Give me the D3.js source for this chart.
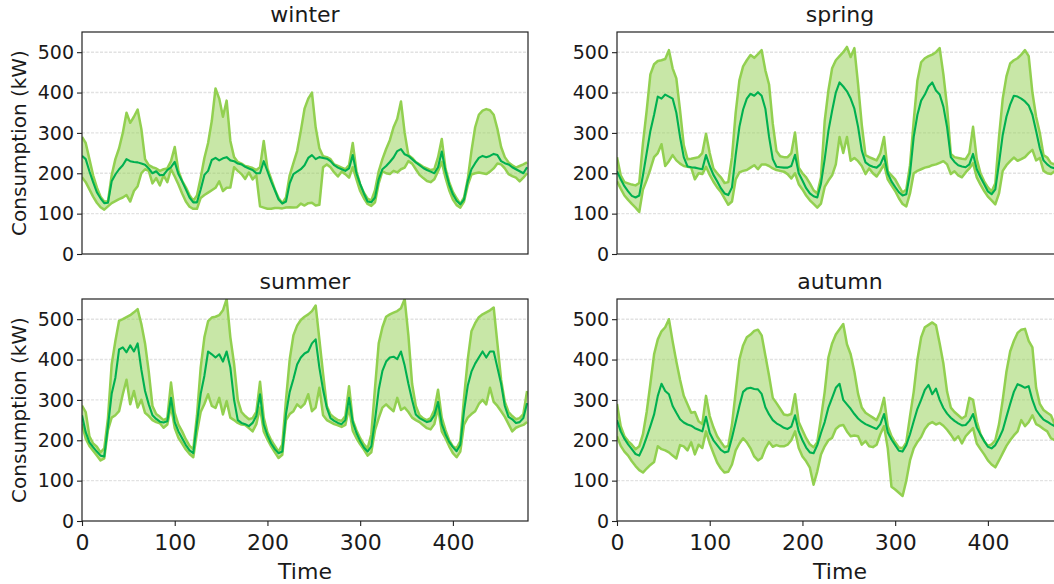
<!DOCTYPE html>
<html>
<head>
<meta charset="utf-8">
<script src="https://cdn.jsdelivr.net/npm/d3@7"></script>
<style>
  body { margin: 0; background: #ffffff; }
  svg { display: block; }
  text { font-family: "DejaVu Sans", sans-serif; fill: #1a1a1a; }
</style>
</head>
<body>
<svg id="chart" width="1054" height="584"></svg>
<script>
// Hourly samples (every 4 quarter-hour steps) over five days, per season.
const STEP = 4;
const seasonNames = ["winter", "spring", "summer", "autumn"];
const xTicks = [0, 100, 200, 300, 400];
const yTicks = [0, 100, 200, 300, 400, 500];

const winterMax = [
  290, 275, 235, 195, 165, 142, 130, 130, 195, 235, 262, 300, 350, 325, 340, 358, 310, 235, 220, 215, 212, 206, 210, 212,
  230, 265, 206, 181, 165, 146, 132, 145, 189, 238, 275, 330, 410, 385, 340, 380, 280, 240, 228, 224, 218, 216, 213, 208,
  215, 280, 212, 186, 160, 139, 126, 140, 195, 225, 255, 305, 360, 385, 400, 314, 262, 242, 240, 235, 222, 218, 214, 210,
  220, 275, 205, 173, 152, 137, 132, 158, 205, 235, 260, 282, 314, 335, 378, 300, 245, 238, 228, 222, 216, 212, 208, 210,
  240, 285, 212, 178, 154, 138, 124, 140, 185, 255, 314, 345, 355, 359, 356, 345, 310, 265, 240, 227, 220, 214, 218, 222,
  227];
const winterMean = [
  243, 235, 205, 178, 153, 138, 126, 127, 180, 197, 210, 220, 235, 230, 228, 227, 224, 221, 212, 200, 205, 195, 196, 208,
  215, 228, 198, 180, 160, 140, 128, 128, 160, 196, 206, 233, 238, 232, 237, 240, 232, 230, 224, 222, 216, 212, 208, 200,
  200, 230, 205, 180, 158, 135, 125, 130, 175, 198, 204, 210, 220, 238, 245, 235, 240, 238, 236, 230, 220, 214, 210, 206,
  212, 245, 200, 173, 150, 130, 128, 140, 185, 210, 218, 228, 239, 255, 260, 247, 243, 235, 227, 220, 213, 208, 204, 200,
  215, 254, 206, 172, 148, 132, 123, 135, 180, 210, 225, 238, 243, 240, 243, 248, 245, 230, 225, 222, 215, 210, 205, 200,
  215];
const winterMin = [
  190, 178, 160, 142, 127, 116, 110, 118, 126, 131, 136, 140, 146, 130, 156, 168, 200, 210, 206, 175, 188, 170, 195, 178,
  210, 192, 172, 150, 130, 117, 112, 112, 139, 146, 152, 158, 164, 180, 156, 164, 165, 215, 206, 198, 186, 202, 185, 195,
  118, 115, 112, 112, 114, 114, 113, 115, 116, 115, 116, 125, 120, 126, 127, 120, 122, 215, 222, 215, 202, 192, 204, 198,
  189, 215, 185, 156, 138, 124, 119, 128, 175, 205, 200, 198, 206, 202, 210, 214, 230, 224, 210, 196, 188, 181, 178, 185,
  205, 228, 189, 158, 135, 121, 115, 130, 170, 197, 200, 202, 200, 198, 204, 212, 224, 222, 212, 198, 193, 189, 180, 189,
  200];

const springMax = [
  240, 195, 178, 175, 172, 170, 176, 275, 355, 445, 470, 478, 480, 483, 505, 460, 435, 356, 270, 235, 236, 238, 240, 250,
  298, 250, 212, 200, 190, 176, 178, 240, 350, 430, 465, 480, 493, 486, 495, 505, 455, 420, 323, 255, 242, 240, 240, 250,
  301, 214, 200, 190, 175, 158, 150, 190, 330, 405, 460, 480, 490, 500, 513, 488, 510, 420, 320, 245, 240, 236, 232, 250,
  290, 205, 195, 185, 168, 152, 160, 220, 330, 430, 475, 485, 490, 494, 500, 510, 445, 364, 248, 240, 238, 236, 235, 250,
  315, 235, 200, 180, 165, 155, 175, 290, 385, 440, 472, 480, 485, 494, 505, 490, 400, 340, 300, 245, 239, 225, 222, 218,
  215];
const springMean = [
  205, 185, 168, 155, 144, 140, 145, 195, 250, 305, 345, 390, 385, 395, 390, 385, 350, 290, 240, 217, 215, 214, 212, 210,
  245, 218, 196, 180, 163, 150, 146, 165, 245, 315, 358, 385, 397, 392, 401, 392, 360, 290, 235, 216, 215, 214, 214, 218,
  246, 200, 182, 163, 150, 143, 140, 175, 235, 305, 355, 400, 425, 415, 403, 385, 360, 315, 256, 227, 220, 216, 214, 222,
  243, 200, 180, 166, 153, 145, 148, 200, 290, 345, 380, 395, 415, 425, 405, 395, 365, 314, 240, 228, 220, 217, 215, 222,
  248, 210, 190, 173, 155, 148, 160, 225, 295, 340, 370, 392, 390, 385, 378, 368, 345, 305, 262, 232, 222, 215, 212, 210,
  210];
const springMin = [
  180, 162, 145, 134, 124, 115, 104, 160, 183, 210, 240, 250, 272, 218, 230, 245, 232, 224, 218, 216, 214, 185, 200, 198,
  216, 196, 179, 165, 154, 138, 122, 130, 185, 202, 206, 208, 214, 220, 210, 222, 222, 218, 212, 208, 206, 204, 198, 187,
  200, 173, 160, 145, 133, 124, 115, 125, 166, 182, 195, 222, 290, 250, 290, 231, 238, 230, 218, 198, 212, 200, 192, 206,
  222, 185, 170, 156, 138, 124, 118, 150, 200, 206, 210, 214, 216, 220, 222, 226, 230, 222, 198, 205, 195, 190, 202, 212,
  225, 190, 172, 156, 142, 133, 123, 150, 206, 220, 230, 239, 231, 235, 240, 250, 258, 232, 238, 206, 200, 198, 205, 200,
  198];

const summerMax = [
  286, 270, 210, 192, 184, 170, 180, 255, 388, 446, 496, 500, 505, 510, 517, 525, 488, 440, 370, 285, 265, 258, 250, 255,
  343, 268, 239, 222, 202, 186, 178, 262, 380, 455, 495, 504, 506, 510, 522, 550, 455, 390, 300, 270, 260, 252, 255, 270,
  345, 256, 220, 200, 186, 172, 189, 300, 400, 460, 484, 498, 506, 512, 520, 534, 450, 365, 285, 264, 256, 250, 248, 260,
  334, 250, 225, 205, 190, 180, 215, 330, 440, 480, 506, 512, 516, 520, 527, 550, 460, 340, 285, 262, 254, 250, 255, 275,
  325, 256, 225, 200, 185, 180, 198, 305, 400, 470, 490, 505, 512, 517, 522, 529, 440, 350, 295, 270, 260, 252, 255, 265,
  322];
const summerMean = [
  262, 220, 195, 183, 172, 162, 160, 235, 315, 355, 425, 430, 418, 435, 420, 440, 375, 322, 289, 262, 253, 246, 244, 247,
  305, 245, 222, 205, 188, 175, 168, 243, 315, 360, 420, 413, 405, 413, 395, 420, 380, 300, 250, 243, 240, 235, 243, 260,
  314, 239, 212, 192, 178, 168, 172, 265, 320, 352, 388, 405, 415, 420, 440, 450, 380, 325, 281, 255, 248, 243, 240, 250,
  305, 245, 218, 198, 182, 172, 185, 250, 325, 372, 395, 405, 407, 401, 420, 385, 340, 300, 264, 255, 250, 245, 248, 262,
  295, 240, 215, 196, 183, 173, 189, 272, 335, 370, 390, 405, 420, 405, 420, 420, 380, 340, 285, 258, 252, 243, 245, 255,
  292];
const summerMin = [
  240, 204, 186, 174, 162, 150, 155, 225, 256, 262, 272, 314, 350, 289, 322, 281, 300, 268, 260, 250, 245, 242, 231, 239,
  285, 230, 206, 192, 177, 166, 158, 220, 270, 290, 314, 285, 280, 305, 264, 297, 256, 250, 243, 239, 238, 230, 222, 240,
  281, 222, 202, 185, 170, 156, 164, 250, 265, 272, 289, 281, 290, 314, 272, 281, 330, 262, 250, 245, 240, 237, 233, 238,
  281, 224, 205, 190, 177, 162, 170, 225, 255, 281, 289, 280, 272, 305, 275, 281, 270, 256, 250, 245, 237, 230, 227, 240,
  281, 222, 205, 185, 168, 158, 172, 239, 256, 265, 272, 290, 300, 289, 330, 295, 285, 272, 258, 240, 222, 231, 235, 238,
  245];

const autumnMax = [
  290, 235, 210, 198, 189, 178, 185, 215, 270, 340, 413, 450, 470, 480, 500, 445, 395, 350, 310, 289, 268, 270, 247, 240,
  310, 260, 232, 210, 196, 183, 186, 239, 320, 400, 435, 455, 462, 471, 474, 460, 410, 360, 305, 292, 278, 264, 262, 265,
  314, 245, 225, 205, 190, 183, 195, 255, 320, 405, 440, 462, 475, 488, 438, 413, 370, 315, 281, 268, 262, 256, 250, 270,
  305, 235, 210, 195, 182, 180, 195, 260, 320, 400, 455, 480, 486, 492, 485, 440, 390, 320, 281, 270, 262, 254, 260, 305,
  300, 247, 215, 198, 186, 190, 200, 240, 300, 370, 420, 446, 466, 474, 476, 446, 430, 330, 290, 275, 268, 262, 240, 235,
  232];
const autumnMean = [
  250, 222, 204, 190, 178, 166, 162, 182, 208, 235, 264, 310, 340, 322, 314, 285, 268, 252, 244, 239, 236, 230, 226, 222,
  258, 218, 200, 188, 176, 170, 172, 206, 245, 285, 320, 328, 330, 327, 326, 315, 282, 264, 250, 242, 237, 231, 228, 234,
  262, 222, 200, 182, 170, 168, 188, 218, 245, 281, 305, 330, 340, 300, 289, 278, 265, 254, 246, 240, 236, 232, 228, 240,
  265, 220, 202, 188, 174, 172, 188, 215, 247, 278, 300, 325, 337, 314, 328, 300, 280, 266, 256, 248, 242, 237, 238, 248,
  265, 232, 214, 198, 184, 180, 188, 205, 225, 258, 290, 320, 339, 335, 330, 334, 300, 275, 262, 251, 246, 240, 235, 232,
  230];
const autumnMin = [
  210, 186, 172, 162, 148, 136, 126, 120, 130, 139, 146, 185, 178, 175, 170, 162, 155, 188, 185, 175, 195, 165, 189, 181,
  222, 192, 168, 145, 130, 120, 122, 140, 175, 192, 205, 195, 180, 160, 150, 156, 180, 196, 184, 188, 185, 185, 189, 200,
  222, 181, 160, 148, 132, 90, 123, 165, 185, 200, 206, 228, 236, 238, 222, 210, 212, 210, 189, 198, 185, 183, 189, 215,
  235, 180, 85, 78, 70, 62, 100, 150, 180, 196, 208, 228, 240, 245, 239, 243, 236, 226, 214, 200, 210, 192, 210, 220,
  230, 192, 178, 165, 150, 140, 133, 150, 168, 186, 200, 212, 222, 250, 235, 245, 262, 240, 235, 228, 222, 205, 200, 205,
  210];

const seriesBySeason = {
  winter: { max: winterMax, mean: winterMean, min: winterMin },
  spring: { max: springMax, mean: springMean, min: springMin },
  summer: { max: summerMax, mean: summerMean, min: summerMin },
  autumn: { max: autumnMax, mean: autumnMean, min: autumnMin }
};

// Layout of the 2 x 2 grid of axes
const W = 446, H = 222;
const colX = [82, 617];
const rowY = [32, 299];
const X_MAX = 481, Y_MAX = 550;

const BAND = "#92d050";
const MEAN = "#00b050";

const svg = d3.select("#chart");

const x = d3.scaleLinear().domain([0, X_MAX]).range([0, W]);
const y = d3.scaleLinear().domain([0, Y_MAX]).range([H, 0]);

seasonNames.forEach((name, k) => {
  const col = k % 2, row = Math.floor(k / 2);
  const s = seriesBySeason[name];
  const g = svg.append("g").attr("transform", `translate(${colX[col]},${rowY[row]})`);

  // horizontal grid
  g.append("g").selectAll("line")
    .data(yTicks.filter(v => v > 0))
    .join("line")
    .attr("x1", 0).attr("x2", W)
    .attr("y1", d => y(d)).attr("y2", d => y(d))
    .attr("stroke", "#e2e2e2")
    .attr("stroke-width", 1.4)
    .attr("stroke-dasharray", "3,1.5");

  const clipId = `clip-${name}`;
  g.append("clipPath").attr("id", clipId)
    .append("rect").attr("x", 0).attr("y", 0).attr("width", W).attr("height", H);

  const plot = g.append("g").attr("clip-path", `url(#${clipId})`);
  const idx = d3.range(s.mean.length);

  const area = d3.area()
    .x(i => x(i * STEP))
    .y0(i => y(s.min[i]))
    .y1(i => y(s.max[i]));
  const line = arr => d3.line().x(i => x(i * STEP)).y(i => y(arr[i]));

  plot.append("path").attr("d", area(idx))
    .attr("fill", BAND).attr("fill-opacity", 0.5).attr("stroke", "none");
  plot.append("path").attr("d", line(s.max)(idx))
    .attr("fill", "none").attr("stroke", BAND).attr("stroke-width", 2.5)
    .attr("stroke-linejoin", "round");
  plot.append("path").attr("d", line(s.min)(idx))
    .attr("fill", "none").attr("stroke", BAND).attr("stroke-width", 2.5)
    .attr("stroke-linejoin", "round");
  plot.append("path").attr("d", line(s.mean)(idx))
    .attr("fill", "none").attr("stroke", MEAN).attr("stroke-width", 2.1)
    .attr("stroke-linejoin", "round");

  // y axis
  const ya = g.append("g")
    .call(d3.axisLeft(y).tickValues(yTicks).tickSize(5).tickPadding(3).tickFormat(d3.format("d")));
  ya.select(".domain").remove();
  ya.selectAll(".tick line").attr("stroke", "#222").attr("stroke-width", 1.1);
  ya.selectAll(".tick text").attr("font-size", 19).attr("fill", "#1a1a1a")
    .attr("font-family", "DejaVu Sans");

  // x axis on the bottom row only
  if (row === 1) {
    const xa = g.append("g").attr("transform", `translate(0,${H})`)
      .call(d3.axisBottom(x).tickValues(xTicks).tickSize(5).tickPadding(8).tickFormat(d3.format("d")));
    xa.select(".domain").remove();
    xa.selectAll(".tick line").attr("stroke", "#222").attr("stroke-width", 1.1);
    xa.selectAll(".tick text").attr("font-size", 22).attr("fill", "#1a1a1a")
      .attr("font-family", "DejaVu Sans");

    g.append("text")
      .attr("x", W / 2).attr("y", H + 58)
      .attr("text-anchor", "middle")
      .attr("font-size", 22)
      .text("Time");
  }

  // frame
  g.append("rect").attr("x", 0).attr("y", 0).attr("width", W).attr("height", H)
    .attr("fill", "none").attr("stroke", "#222").attr("stroke-width", 1.2);

  // title
  g.append("text")
    .attr("x", W / 2).attr("y", -10)
    .attr("text-anchor", "middle")
    .attr("font-size", 22)
    .text(name);

  if (col === 0) {
    g.append("text")
      .attr("transform", `translate(${19 - colX[0]},${H / 2}) rotate(-90)`)
      .attr("text-anchor", "middle")
      .attr("dy", "0.35em")
      .attr("font-size", 20)
      .text("Consumption (kW)");
  }
});
</script>
</body>
</html>
